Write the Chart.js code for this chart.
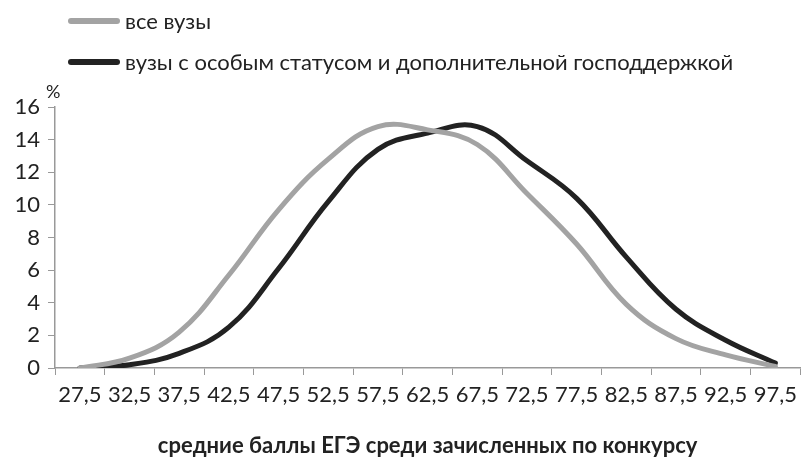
<!DOCTYPE html>
<html>
<head>
<meta charset="utf-8">
<script src="https://cdn.jsdelivr.net/npm/chart.js@4/dist/chart.umd.min.js"></script>
<style>
  html, body { margin: 0; padding: 0; background: #fff; }
  #wrap { position: relative; width: 804px; height: 463px; }
  .legend { position: absolute; left: 68px; font-family: Lato, sans-serif; font-size: 22px; color: #222; display: flex; align-items: center; }
  .legend .swatch { width: 52px; height: 6px; border-radius: 3px; margin-right: 5px; }
</style>
</head>
<body>
<div id="wrap">
  <canvas id="chart" width="804" height="463"></canvas>
  <div class="legend" style="top: 7px;"><span class="swatch" style="background:#a3a3a3"></span>все вузы</div>
  <div class="legend" style="top: 48px;"><span class="swatch" style="background:#222"></span>вузы с особым статусом и дополнительной господдержкой</div>
</div>
<script>
// Data
const scores = ['27,5', '32,5', '37,5', '42,5', '47,5', '52,5', '57,5', '62,5', '67,5', '72,5', '77,5', '82,5', '87,5', '92,5', '97,5'];
const allUniversities = [0, 0.6, 2.2, 5.7, 9.7, 12.8, 14.8, 14.6, 13.7, 10.7, 7.6, 3.9, 1.8, 0.8, 0.1];
const specialStatus = [0, 0.2, 0.9, 2.5, 6.1, 10.2, 13.4, 14.4, 14.8, 12.7, 10.4, 6.8, 3.6, 1.7, 0.3];

// "%" above the value axis
const percentLabel = {
    id: 'percentLabel',
    afterDraw(chart) {
        const y = chart.scales.y;
        const ctx = chart.ctx;
        ctx.save();
        ctx.font = '18px Lato, sans-serif';
        ctx.fillStyle = '#222';
        ctx.textAlign = 'left';
        ctx.textBaseline = 'bottom';
        ctx.fillText('%', y.right - 9, y.top - 6);
        ctx.restore();
    }
};

new Chart(document.getElementById('chart'), {
    type: 'line',
    data: {
        labels: scores,
        datasets: [{
            label: 'все вузы',
            data: allUniversities,
            borderColor: '#a3a3a3',
            borderWidth: 5,
            tension: 0.4,
            pointRadius: 0,
            borderCapStyle: 'round'
        }, {
            label: 'вузы с особым статусом и дополнительной господдержкой',
            data: specialStatus,
            borderColor: '#222',
            borderWidth: 5,
            tension: 0.4,
            pointRadius: 0,
            borderCapStyle: 'round'
        }]
    },
    options: {
        responsive: false,
        animation: false,
        layout: { padding: { top: 107, right: 0, left: 0, bottom: 0 } },
        plugins: {
            legend: { display: false },
            tooltip: { enabled: false }
        },
        scales: {
            x: {
                offset: true,
                grid: { offset: true, drawOnChartArea: false, color: '#999', tickLength: 7 },
                border: { color: '#999', width: 1.5 },
                ticks: { color: '#222', font: { family: 'Lato', size: 22 }, maxRotation: 0, autoSkip: false, padding: 7 },
                title: {
                    display: true,
                    text: 'средние баллы ЕГЭ среди зачисленных по конкурсу',
                    color: '#222',
                    font: { family: 'Lato', size: 22, weight: 'bold' },
                    padding: { top: 14 }
                },
                afterFit(scale) { scale.height = 95; }
            },
            y: {
                min: 0,
                max: 16,
                ticks: { stepSize: 2, color: '#222', font: { family: 'Lato', size: 22 }, padding: 8 },
                grid: { drawOnChartArea: false, color: '#999', tickLength: 7 },
                border: { color: '#999', width: 1.5 },
                afterFit(scale) { scale.width = 55; }
            }
        }
    },
    plugins: [percentLabel]
});
</script>
</body>
</html>
